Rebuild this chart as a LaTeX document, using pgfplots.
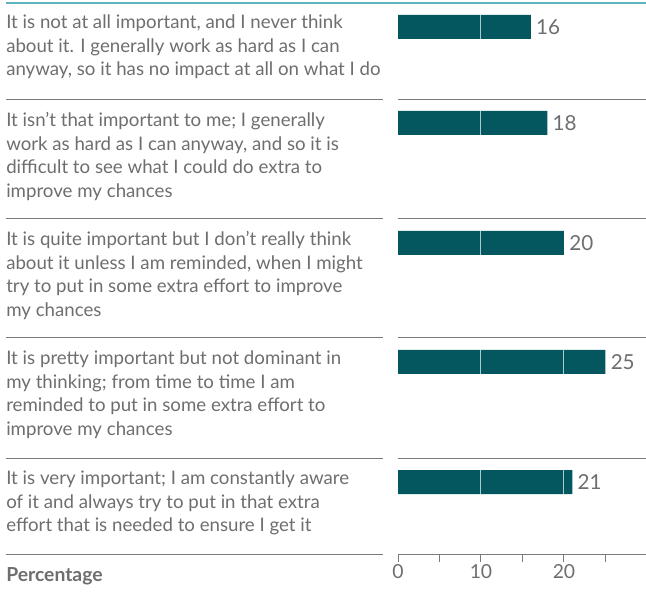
\documentclass[border=0pt]{standalone}
\usepackage{pgfplots}
\pgfplotsset{compat=1.18}
\usepackage{fontspec}
\setmainfont{Lato}
\definecolor{barcol}{HTML}{04565F}
\definecolor{txt}{HTML}{6D6E70}
\definecolor{sep}{HTML}{7A7A7A}
\definecolor{topline}{HTML}{5BB5BE}
\definecolor{gridc}{HTML}{A8CBCF}
\begin{document}
\begin{tikzpicture}[x=1pt,y=1pt]
\useasboundingbox (0,0) rectangle (484.5,-448.5);
\begin{axis}[
  at={(298.5pt,-415.5pt)}, anchor=south west,
  scale only axis, width=186pt, height=413.25pt,
  xmin=0, xmax=29.88, ymin=-554, ymax=-3,
  axis y line=none, axis x line*=bottom,
  axis line style={draw=sep, line width=0.75pt, -},
  xtick={0,10,20}, minor xtick={5,15,25},
  tick align=outside, major tick length=6pt, minor tick length=6pt,
  every tick/.style={draw=sep, line width=0.75pt},
  xticklabel style={font=\fontsize{14.5}{14.5}\selectfont, text=txt, anchor=base, inner sep=0pt, yshift=-12pt},
  /pgf/number format/assume math mode=true,
  clip=false,
]
\addplot[xbar, bar width=18pt, bar shift=0pt, fill=barcol, draw=none,
  nodes near coords,
  nodes near coords style={font=\fontsize{15.5}{15.5}\selectfont, text=txt, anchor=west, inner sep=0pt, xshift=3.75pt}]
  coordinates {(16,-27) (18,-123) (20,-243) (25,-362) (21,-482)};
% light rules across the bars at 10 and 20
\draw[gridc, line width=0.75pt] (axis cs:10,-15) -- (axis cs:10,-39);
\draw[gridc, line width=0.75pt] (axis cs:10,-111) -- (axis cs:10,-135);
\draw[gridc, line width=0.75pt] (axis cs:10,-231) -- (axis cs:10,-255);
\draw[gridc, line width=0.75pt] (axis cs:10,-350) -- (axis cs:10,-374);
\draw[gridc, line width=0.75pt] (axis cs:10,-470) -- (axis cs:10,-494);
\draw[gridc, line width=0.75pt] (axis cs:20,-350) -- (axis cs:20,-374);
\draw[gridc, line width=0.75pt] (axis cs:20,-470) -- (axis cs:20,-494);
% top rule
\draw[topline, line width=1.5pt] (axis cs:-47.23,-3) -- (axis cs:29.88,-3);
% separators
\pgfplotsinvokeforeach{-100,-219,-338,-458}{
  \draw[sep, line width=0.75pt] (axis cs:-47.23,#1) -- (axis cs:-1.81,#1);
  \draw[sep, line width=0.75pt] (axis cs:0,#1) -- (axis cs:29.88,#1);
}
\draw[sep, line width=0.75pt] (axis cs:-47.23,-554) -- (axis cs:-1.81,-554);
% category labels (anchored at the baseline of their last line)
\tikzset{catlab/.style={anchor=base west, inner sep=0pt, align=left, text=txt, font=\fontsize{14}{17.6}\selectfont}}
\node[catlab] at (axis cs:-47.23,-75.9) {It is not at all important, and I never think\\about it. I generally work as hard as I can\\anyway, so it has no impact at all on what I do};
\node[catlab] at (axis cs:-47.23,-197.4) {It isn’t that important to me; I generally\\work as hard as I can anyway, and so it is\\difficult to see what I could do extra to\\improve my chances};
\node[catlab] at (axis cs:-47.23,-316.4) {It is quite important but I don’t really think\\about it unless I am reminded, when I might\\try to put in some extra effort to improve\\my chances};
\node[catlab] at (axis cs:-47.23,-435.4) {It is pretty important but not dominant in\\my thinking; from time to time I am\\reminded to put in some extra effort to\\improve my chances};
\node[catlab] at (axis cs:-47.23,-531.9) {It is very important; I am constantly aware\\of it and always try to put in that extra\\effort that is needed to ensure I get it};
\node[anchor=base west, inner sep=0pt, text=txt, font=\bfseries\fontsize{14.5}{14.5}\selectfont] at (axis cs:-47.23,-581) {Percentage};
\end{axis}
\end{tikzpicture}
\end{document}
